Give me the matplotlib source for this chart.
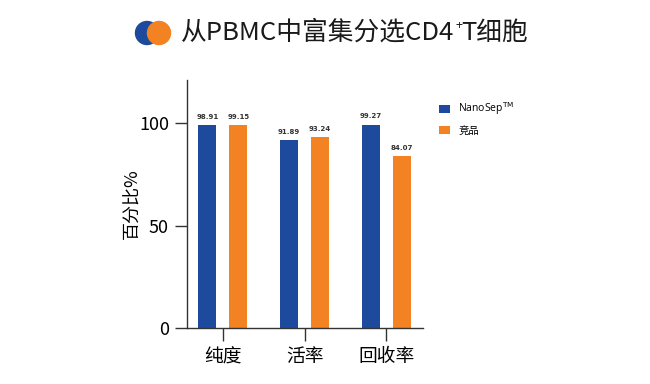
import matplotlib
matplotlib.use("Agg")
import matplotlib.pyplot as plt
import numpy as np
from matplotlib.patches import Circle
from matplotlib.font_manager import FontProperties

plt.rcParams['font.family'] = ['Noto Sans CJK SC', 'DejaVu Sans']

categories = ['纯度', '活率', '回收率']
nanosep = [98.91, 91.89, 99.27]
competitor = [99.15, 93.24, 84.07]
series_names = ['NanoSep$^{\\mathrm{TM}}$', '竞品']
yticks = [0, 50, 100]
title_parts = ['从PBMC中富集分选CD4', '+', 'T细胞']

blue = '#1d4a9c'
orange = '#f28222'

fig = plt.figure(figsize=(6.5, 3.84), dpi=100)
ax = fig.add_axes([187/650, 1-328/384, 236/650, 248/384])

x = np.arange(len(categories))
w = 0.22
off = 0.19
b1 = ax.bar(x - off, nanosep, w, color=blue, label=series_names[0])
b2 = ax.bar(x + off, competitor, w, color=orange, label=series_names[1])
for bars, vals in ((b1, nanosep), (b2, competitor)):
    for r, v in zip(bars, vals):
        ax.text(r.get_x() + r.get_width()/2, v + 2.5, f'{v:.2f}', ha='center', va='bottom',
                fontsize=5, fontweight='bold', color='#333333', family='DejaVu Sans')

ax.set_xlim(-0.44, 2.45)
ax.set_ylim(0, 121)
ax.set_yticks(yticks)
ax.set_xticks(x)
ax.set_xticklabels(categories, fontsize=13.5)
ax.tick_params(axis='y', labelsize=13, length=9, width=1, color='#333333', pad=4)
ax.tick_params(axis='x', length=9, width=1, color='#333333', pad=4)
for s in ['top', 'right']:
    ax.spines[s].set_visible(False)
for s in ['left', 'bottom']:
    ax.spines[s].set_color('#333333')
    ax.spines[s].set_linewidth(1)
ax.set_ylabel('百分比%', fontsize=13, labelpad=-2)

legfont = FontProperties(family=['Open Sans', 'Noto Sans CJK SC'], size=7.5)
leg = fig.legend(handles=[b1, b2], labels=series_names, loc='upper left',
                 bbox_to_anchor=(430/650, 1-91/384), frameon=False, prop=legfont,
                 handlelength=1.0, handleheight=0.8, handletextpad=0.8, labelspacing=0.8)

# title with circles
fig.canvas.draw()
renderer = fig.canvas.get_renderer()
xpos = 181/650
ypos = 1-33/384
t1 = fig.text(xpos, ypos, title_parts[0], fontsize=18.5, ha='left', va='center', color='#1a1a1a')
bb = t1.get_window_extent(renderer)
t2 = fig.text(bb.x1/650 + 1/650, ypos + 7/384, title_parts[1], fontsize=9, ha='left', va='center', color='#1a1a1a')
bb2 = t2.get_window_extent(renderer)
t3 = fig.text(bb2.x1/650 - 1/650, ypos, title_parts[2], fontsize=18.5, ha='left', va='center', color='#1a1a1a')

fa = fig.add_axes([0, 0, 1, 1], zorder=-1)
fa.set_xlim(0, 650); fa.set_ylim(384, 0); fa.axis('off')
fa.add_patch(Circle((147, 33), 11.5, color=blue))
fa.add_patch(Circle((159, 33), 11.5, color=orange))

fig.savefig('out.png', dpi=100)
